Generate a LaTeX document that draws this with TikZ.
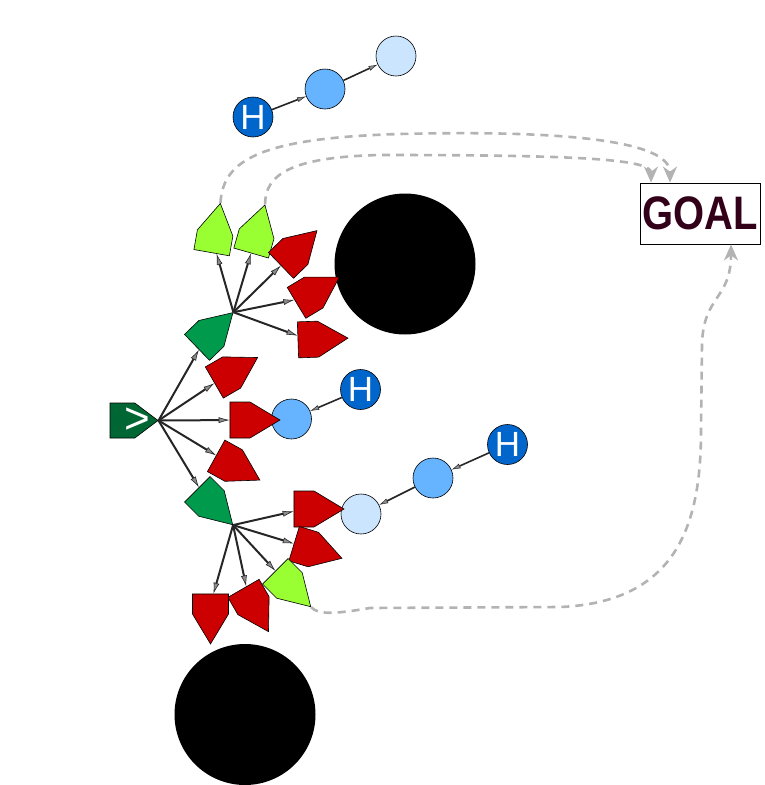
\documentclass[tikz,border=0pt]{standalone}
\usepackage{fontspec}
\setsansfont{Liberation Sans}
\newfontfamily\goalfont[FakeStretch=0.85]{Liberation Sans}
\usetikzlibrary{arrows.meta,shapes.symbols}
\definecolor{movered}{HTML}{CC0000}
\definecolor{rootgreen}{HTML}{006633}
\definecolor{stepgreen}{HTML}{009A4D}
\definecolor{goodgreen}{HTML}{99FF33}
\definecolor{hblue}{HTML}{0066CC}
\definecolor{midblue}{HTML}{66B3FF}
\definecolor{paleblue}{HTML}{CCE5FF}
\definecolor{goalred}{HTML}{33001A}
\definecolor{linkgrey}{HTML}{B3B3B3}

\begin{document}
\begin{tikzpicture}[
  x=1pt, y=1pt,
  pent/.style={shape=signal, signal to=east, signal pointer angle=62, draw=black,
    line width=0.6pt, minimum width=50pt, minimum height=36pt, inner sep=0pt},
  bad/.style={pent, fill=movered},
  good/.style={pent, fill=goodgreen},
  mid/.style={pent, fill=stepgreen},
  ball/.style={circle, draw=black, line width=0.6pt, minimum size=40pt, inner sep=0pt},
  hball/.style={ball, fill=hblue, text=white, font=\sffamily\fontsize{35}{35}\selectfont},
  wall/.style={circle, fill=black, minimum size=141pt, inner sep=0pt},
  arrow/.style={draw=black!85, line width=2pt,
    -{Latex[length=11pt,width=6pt,fill=black!45,line width=0.6pt]}},
  link/.style={draw=black!85, line width=1.6pt,
    -{Latex[length=9pt,width=5pt,fill=black!45,line width=0.5pt]}},
  goalarrow/.style={draw=linkgrey, line width=2.6pt, dash pattern=on 8pt off 6pt,
    -{Stealth[length=16pt,width=14pt,inset=5pt]}}
]
\useasboundingbox (0,0) rectangle (765,-785);

% obstacles
\node[wall] (wall1) at (405,-264) {};
\node[wall] (wall2) at (245,-714.5) {};

% humans and their moves
\node[hball] (h1) at (253,-117) {H};
\node[ball, fill=midblue] (c1) at (325,-89) {};
\node[ball, fill=paleblue] (c2) at (396,-56) {};
\node[ball, fill=midblue] (c3) at (291.5,-419) {};
\node[hball] (h2) at (360.5,-389.5) {H};
\node[ball, fill=paleblue] (c4) at (361,-514) {};
\node[ball, fill=midblue] (c5) at (433,-478) {};
\node[hball] (h3) at (507.5,-444.5) {H};

% search tree
\node[pent, fill=rootgreen, minimum width=48pt, minimum height=35pt,
  signal pointer angle=74,
  label={[text=white, font=\sffamily\fontsize{44}{44}\selectfont,
    xshift=15pt]center:>}] (root) at (122.4,-420.5) {};
\node[mid, rotate=44] (up) at (204.2,-340.4) {};
\node[mid, rotate=-45] (down) at (204.4,-496.4) {};
\node[bad, rotate=30] (r1) at (223,-377.5) {};
\node[bad] (r2) at (240,-420) {};
\node[bad, rotate=-29] (r3) at (224.9,-460.7) {};

\node[good, rotate=80] (g1) at (213.4,-242.8) {};
\node[good, rotate=74] (g2) at (253.9,-243.4) {};
\node[bad, rotate=44] (a3) at (288.2,-258.4) {};
\node[bad, rotate=31] (a4) at (305.1,-297.7) {};
\node[bad, rotate=2] (a5) at (308,-339.5) {};

\node[bad] (b1) at (304,-509) {};
\node[bad, rotate=-17] (b2) at (303.7,-546.6) {};
\node[good, rotate=-45] (g3) at (282.4,-578.4) {};
\node[bad, rotate=-60] (b4) at (248.5,-597) {};
\node[bad, rotate=-90] (b5) at (210.5,-604) {};

% goal
\node[draw=black, line width=0.8pt, minimum width=120pt, minimum height=61pt,
  inner sep=0pt, text=goalred,
  font=\goalfont\bfseries\fontsize{47}{47}\selectfont] (goal) at (700,-213.5) {GOAL};
\coordinate (in1) at ([xshift=-30pt]goal.north);
\coordinate (in2) at ([xshift=-49pt]goal.north);
\coordinate (in3) at ([xshift=31pt]goal.south);

\foreach \t in {up,r1,r2,r3,down}
  \draw[arrow] (root.east) -- (\t);
\foreach \t in {g1,g2,a3,a4,a5}
  \draw[arrow] (up.east) -- (\t);
\foreach \t in {b1,b2,g3,b4,b5}
  \draw[arrow] (down.east) -- (\t);

\draw[link] (h1) -- (c1);
\draw[link] (c1) -- (c2);
\draw[link] (h2) -- (c3);
\draw[link] (h3) -- (c5);
\draw[link] (c5) -- (c4);

% paths to the goal
\draw[goalarrow] (g1.east) .. controls (223,-160) and (260,-138) .. (400,-134)
  .. controls (560,-130) and (670,-140) .. (in1);
\draw[goalarrow] (g2.east) .. controls (265,-175) and (290,-157) .. (380,-155)
  .. controls (560,-155) and (651,-158) .. (in2);
\draw[goalarrow] (g3.east) .. controls (318,-615) and (335,-614) .. (370,-608)
  -- (560,-607) .. controls (680,-602) and (701,-520) .. (701,-430)
  -- (702,-345) .. controls (703,-295) and (731,-300) .. (in3);
\end{tikzpicture}
\end{document}
